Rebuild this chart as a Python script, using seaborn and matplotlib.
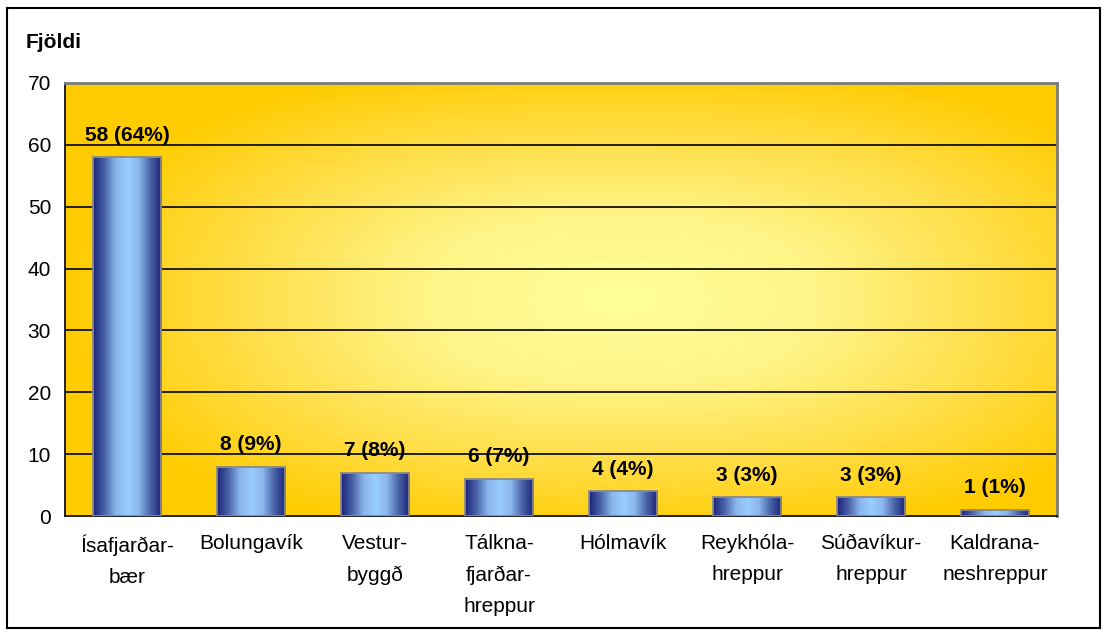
import numpy as np
import matplotlib
matplotlib.use("Agg")
import matplotlib.pyplot as plt
import seaborn as sns
from matplotlib.colors import LinearSegmentedColormap
from matplotlib.patches import Rectangle

# Data
regions = ["Ísafjarðar-\nbær", "Bolungavík", "Vestur-\nbyggð", "Tálkna-\nfjarðar-\nhreppur",
           "Hólmavík", "Reykhóla-\nhreppur", "Súðavíkur-\nhreppur", "Kaldrana-\nneshreppur"]
counts = [58, 8, 7, 6, 4, 3, 3, 1]
percents = [64, 9, 8, 7, 4, 3, 3, 1]

sns.set_style("white")
plt.rcParams["font.family"] = ["Liberation Sans", "DejaVu Sans"]
plt.rcParams["text.color"] = "black"
plt.rcParams["xtick.color"] = "black"
plt.rcParams["ytick.color"] = "black"

fig = plt.figure(figsize=(11.07, 6.33), dpi=100)
ax = fig.add_axes([65 / 1107, 1 - 516 / 633, (1057 - 65) / 1107, (516 - 83) / 633])

sns.barplot(x=list(range(len(counts))), y=counts, color="#6f8fd0", width=0.55,
            edgecolor="#8a8a8a", linewidth=1.3, ax=ax, zorder=3)
ax.set_xlim(-0.5, len(counts) - 0.5)
ax.set_ylim(0, 70)

# yellow background, light in the middle, gold at the edges
gx, gy = np.meshgrid(np.linspace(0, 1, 500), np.linspace(0, 1, 300))
dx = np.abs(gx - 0.56) / 0.56
dy = np.abs(gy - 0.5) / 0.55
r = np.clip((dx ** 2.5 + dy ** 2.5) ** (1 / 2.5), 0, 1)
bg_cmap = LinearSegmentedColormap.from_list(
    "bg", [(0, "#ffff99"), (0.35, "#fff488"), (0.7, "#ffdd44"), (1, "#ffcc00")])
ax.imshow(r, cmap=bg_cmap, extent=[-0.5, len(counts) - 0.5, 0, 70], origin="lower",
          aspect="auto", zorder=0, vmin=0, vmax=1)

# cylinder gradient on bars
bar_cmap = LinearSegmentedColormap.from_list(
    "cyl", ["#1c237a", "#4a63a8", "#8ab6ec", "#99ccff", "#8ab6ec", "#4a63a8", "#1c237a"])
grad = np.linspace(0, 1, 256).reshape(1, -1)
for p in ax.patches:
    x0, y0 = p.get_x(), p.get_y()
    w, h = p.get_width(), p.get_height()
    im = ax.imshow(grad, cmap=bar_cmap, extent=[x0, x0 + w, y0, y0 + h],
                   aspect="auto", zorder=3.5)
    im.set_clip_path(p)
    p.set_facecolor("none")
    p.set_zorder(4)

# grid lines
for yv in range(10, 70, 10):
    ax.axhline(yv, color="black", lw=1.2, zorder=1)

# value labels
for i, (c, pc) in enumerate(zip(counts, percents)):
    ax.annotate(f"{c} ({pc}%)", (i, c), xytext=(0, 9), textcoords="offset points",
                ha="center", va="bottom", fontsize=15, fontweight="bold", zorder=5)

ax.set_yticks(range(0, 71, 10))
ax.set_yticklabels([str(v) for v in range(0, 71, 10)], fontsize=15)
ax.set_xticks(range(len(counts)))
ax.set_xticklabels(regions, fontsize=15, linespacing=1.8)
ax.set_xticks(np.arange(-0.5, len(counts), 1), minor=True)
ax.tick_params(axis="x", which="major", length=0, pad=13)
ax.tick_params(axis="x", which="minor", length=5, width=1, color="black", direction="out")
ax.tick_params(axis="y", length=5, width=1, color="black", direction="out", pad=5)

for s in ["top", "right"]:
    ax.spines[s].set_color("#7a7a7a")
    ax.spines[s].set_linewidth(2)
for s in ["left", "bottom"]:
    ax.spines[s].set_color("black")
    ax.spines[s].set_linewidth(1.2)
ax.set_xlabel("")
ax.set_ylabel("")

fig.text(26 / 1107, 1 - 42 / 633, "Fjöldi", fontsize=15, fontweight="bold", va="center", ha="left")

fig.patches.append(Rectangle((7 / 1107, 1 - 628 / 633), (1100 - 7) / 1107, (628 - 8) / 633,
                             transform=fig.transFigure, fill=False, edgecolor="black", lw=1.5))

fig.savefig("out.png", dpi=100)
